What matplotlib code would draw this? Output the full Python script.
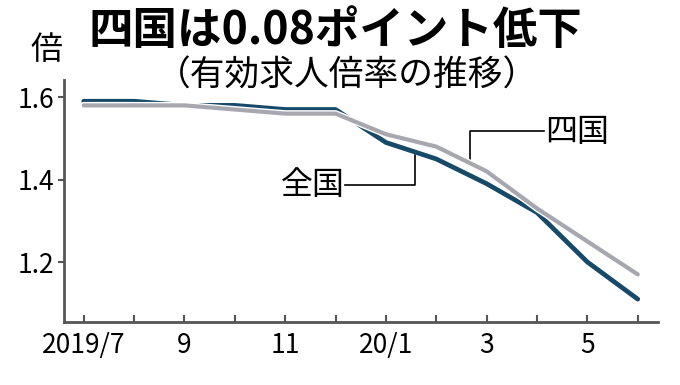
import numpy as np
import matplotlib
matplotlib.use('Agg')
import matplotlib.pyplot as plt
import matplotlib.patheffects as pe

plt.rcParams['font.family'] = ['Noto Sans CJK JP', 'DejaVu Sans']

# Monthly job-openings-to-applicants ratio, 2019/7 - 2020/6
months = ['2019/7', '8', '9', '10', '11', '12', '20/1', '2', '3', '4', '5', '6']
zenkoku = [1.59, 1.59, 1.58, 1.58, 1.57, 1.57, 1.49, 1.45, 1.39, 1.32, 1.20, 1.11]
shikoku = [1.58, 1.58, 1.58, 1.57, 1.56, 1.56, 1.51, 1.48, 1.42, 1.33, 1.25, 1.17]
tick_labels = ['2019/7', '', '9', '', '11', '', '20/1', '', '3', '', '5', '']
y_ticks = [1.2, 1.4, 1.6]

navy = '#174a68'
gray = '#a7a7b0'
axis_col = '#555555'

fig = plt.figure(figsize=(6.8, 3.85), dpi=100)
ax = fig.add_axes([0.0935, 0.1636, 0.874, 0.628])

x = np.arange(len(months))
ax.plot(x, zenkoku, color=navy, lw=3.4, solid_capstyle='round', zorder=3)
ax.plot(x, shikoku, color=gray, lw=3.0, solid_capstyle='round', zorder=4,
        path_effects=[pe.Stroke(linewidth=5.0, foreground='white'), pe.Normal()])

ax.set_xlim(-0.4, 11.4)
ax.set_ylim(1.0545, 1.641)

ax.set_xticks(x)
ax.set_xticklabels(tick_labels, fontsize=19)
ax.set_yticks(y_ticks)
ax.set_yticklabels([f'{v:.1f}' for v in y_ticks], fontsize=19)
ax.tick_params(axis='x', direction='in', length=5, width=1.5, color=axis_col, pad=7)
ax.tick_params(axis='y', direction='out', length=4, width=1.5, color=axis_col, pad=3)

for s in ['top', 'right']:
    ax.spines[s].set_visible(False)
for s in ['left', 'bottom']:
    ax.spines[s].set_color(axis_col)
    ax.spines[s].set_linewidth(2)

# leader lines and labels
ax.plot([5.19, 6.57, 6.57], [1.387, 1.387, 1.459], color='black', lw=1.2, zorder=2)
ax.text(4.55, 1.387, '全国', fontsize=23, ha='center', va='center')
ax.plot([9.13, 7.66, 7.66], [1.518, 1.518, 1.442], color='black', lw=1.2, zorder=2)
ax.text(9.8, 1.515, '四国', fontsize=23, ha='center', va='center')

fig.text(0.493, 0.92, '四国は0.08ポイント低下', fontsize=32, fontweight='bold',
         ha='center', va='center')
fig.text(0.51, 0.803, '（有効求人倍率の推移）', fontsize=25, ha='center', va='center')
fig.text(0.069, 0.87, '倍', fontsize=23, ha='center', va='center')

fig.savefig('out.png', dpi=100)
